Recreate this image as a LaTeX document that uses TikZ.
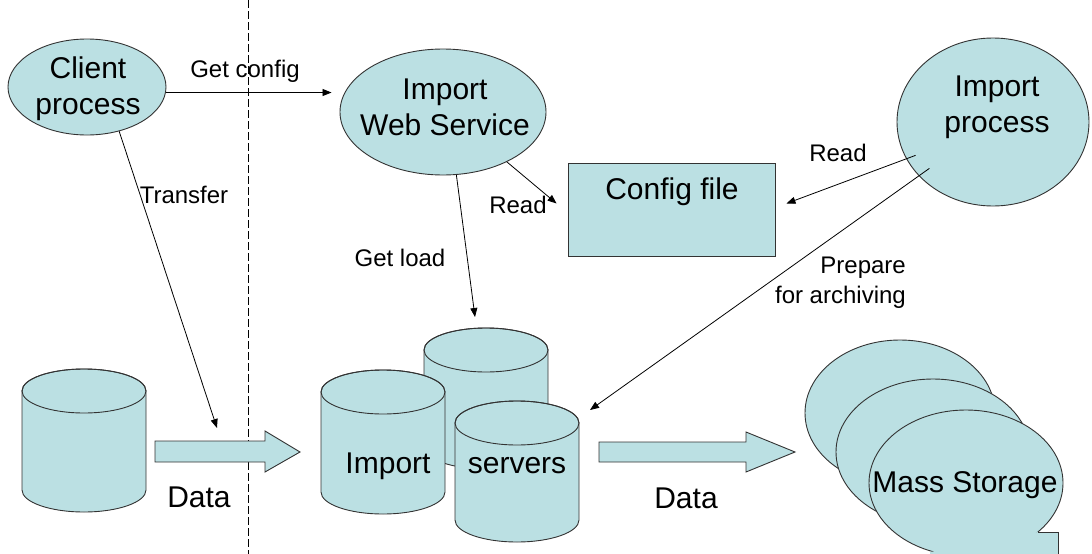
\documentclass[tikz,border=0pt]{standalone}
\usepackage{fontspec}
\setmainfont{Liberation Sans}
\usetikzlibrary{shapes.geometric,arrows.meta}
\definecolor{pale}{HTML}{BBE0E3}
\definecolor{edge}{HTML}{333333}

\tikzset{
  shapefill/.style={fill=pale, draw=edge, line width=0.9pt},
  proc/.style={ellipse, shapefill, inner sep=0pt},
  big/.style={font=\fontsize{30}{36}\selectfont, align=center, inner sep=0pt},
  small/.style={font=\fontsize{24}{30}\selectfont, align=center, inner sep=0pt},
  arr/.style={draw=black, line width=0.8pt, -{Triangle[length=9pt,width=7pt]}},
}

% storage drum: centre x, top-rim y, radius, bottom-rim y (y measured downwards)
\newcommand\drum[4]{%
  \filldraw[shapefill] (#1-#3,-#2) -- (#1-#3,-#4)
    arc[start angle=180,end angle=360,x radius=#3,y radius=22]
    -- (#1+#3,-#2)
    arc[start angle=0,end angle=180,x radius=#3,y radius=22] -- cycle;
  \draw[shapefill, fill=none] (#1,-#2) ellipse[x radius=#3, y radius=22];
}

\begin{document}
\begin{tikzpicture}[x=1pt,y=1pt]
\clip (0,0) rectangle (1092,-554);
\fill[white] (0,0) rectangle (1092,-554);

% network boundary
\draw[line width=0.8pt, dash pattern=on 8pt off 3pt] (248,0) -- (248,-554);

% processes
\node[proc, minimum width=158pt, minimum height=96pt] (client) at (87,-87) {};
\node[big] (clientT) at (88,-89) {Client\\process};
\node[proc, minimum width=206pt, minimum height=126pt] (ws) at (443,-112) {};
\node[big] (wsT) at (445,-107) {Import\\Web Service};
\node[proc, minimum width=192pt, minimum height=168pt] (ip) at (993,-122) {};
\node[big] (ipT) at (997,-107) {Import\\process};

% configuration file
\node[rectangle, shapefill, minimum width=207pt, minimum height=93pt, inner sep=0pt] (cfg) at (671.5,-209.5) {};
\node[big] (cfgT) at (672,-192) {Config file};

% client-side storage
\drum{84}{391}{62}{490}

% import servers
\drum{486}{350}{62}{447}
\drum{383}{392}{62}{492}
\drum{517}{423}{62}{520}
\node[big] (impT) at (388,-466) {Import};
\node[big] (srvT) at (517,-466) {servers};

% data flow arrows
\filldraw[shapefill] (155,-441) -- (265,-441) -- (265,-431) -- (300,-452)
  -- (265,-472) -- (265,-462) -- (155,-462) -- cycle;
\filldraw[shapefill] (599,-442) -- (746,-442) -- (746,-432) -- (795,-452)
  -- (746,-472) -- (746,-462) -- (599,-462) -- cycle;
\node[big] (data1) at (199,-497) {Data};
\node[big] (data2) at (686,-498) {Data};

% mass storage stack
\filldraw[shapefill] (900,-413) ellipse[x radius=95, y radius=73];
\filldraw[shapefill] (933,-452) ellipse[x radius=97, y radius=73];
\filldraw[shapefill] (966,-483) ellipse[x radius=97, y radius=73];
\fill[pale] (1038,-532) -- (1058,-532) -- (1058,-570) -- (930,-570) -- (930,-552) -- cycle;
\draw[edge, line width=0.9pt] (1038,-532) -- (1058,-532) -- (1058,-570);
\node[big] (msT) at (965,-485) {Mass Storage};

% control connectors
\coordinate (trEnd) at (217,-428);
\coordinate (glEnd) at (475,-317);
\coordinate (paEnd) at (590,-410);

\draw[arr, shorten >=8pt] (client.-4) -- (ws.west |- client.-4);
\node[small] (lGet) at (245,-71) {Get config};

\draw[arr] (client.-54.3) -- (trEnd);
\node[small] (lTr) at (184,-195) {Transfer};

\draw[arr] (ws.-38.6) -- ([xshift=-11pt,yshift=6pt]cfg.west);
\node[small] (lRd1) at (518,-205) {Read};

\draw[arr] (ws.-78.2) -- (glEnd);
\node[small] (lGl) at (400,-258) {Get load};

\draw[arr, shorten <=-10pt] (ip.203.3) -- ([xshift=11pt,yshift=6pt]cfg.east);
\node[small] (lRd2) at (838,-153) {Read};

\draw[arr, shorten <=-13pt] (ip.216.4) -- (paEnd);
\node[small, align=right, anchor=east] (lPa) at (906,-283) {Prepare\\for archiving};

\end{tikzpicture}
\end{document}
